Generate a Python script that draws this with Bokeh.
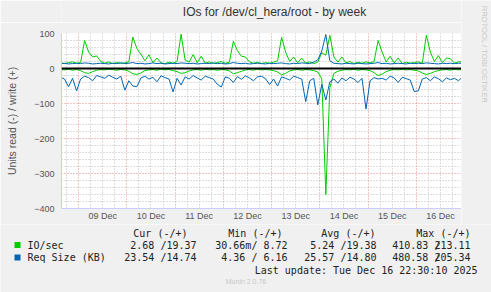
import math
from bokeh.plotting import figure
from bokeh.layouts import column, row
from bokeh.models import Range1d, FixedTicker, Grid, Span
from bokeh.core.properties import value
from bokeh.embed import file_html
from bokeh.resources import INLINE

# time axis: hours since 08 Dec 00:00, sampled every 2 hours
hours = list(range(15, 216, 2))

day_labels = ["09 Dec", "10 Dec", "11 Dec", "12 Dec", "13 Dec", "14 Dec", "15 Dec", "16 Dec"]
y_ticks = [100, 0, -100, -200, -300, -400]

# IO/sec, write (+)
io_write = [16, 14, 17, 19, 15,
            17, 80, 47, 33, 36, 20, 15, 19, 14, 17, 15, 16,
            19, 90, 57, 41, 22, 39, 17, 30, 16, 14, 18, 15,
            20, 98, 24, 18, 40, 16, 35, 15, 19, 14, 17, 20,
            15, 18, 78, 51, 35, 33, 19, 15, 18, 14, 17, 15,
            18, 22, 89, 47, 20, 33, 16, 30, 15, 19, 14, 18,
            45, 38, 95, 33, 18, 33, 16, 20, 14, 18, 15, 19,
            16, 20, 80, 47, 19, 35, 16, 30, 14, 18, 15, 17,
            19, 15, 95, 47, 20, 37, 17, 30, 28, 15, 19, 19]
# IO/sec, read (-)
io_read = [-3, -4, -2, -5, -3,
           -6, -12, -14, -9, -5, -3, -4, -2, -3, -5, -3, -4,
           -8, -15, -17, -13, -6, -4, -3, -5, -2, -4, -3, -6,
           -9, -14, -12, -7, -4, -3, -5, -2, -4, -3, -5, -3,
           -4, -7, -15, -12, -8, -4, -3, -5, -2, -4, -3, -4,
           -6, -10, -18, -14, -7, -4, -3, -5, -3, -4, -6, -10,
           -30, -360, -55, -14, -8, -5, -3, -4, -2, -5, -3, -4,
           -6, -12, -20, -16, -9, -5, -3, -4, -2, -4, -3, -5,
           -7, -13, -17, -14, -9, -6, -4, -3, -5, -2, -4, -3]
# Req Size (KB), write (+)
rq_write = [14, 15, 13, 14, 15,
            14, 16, 15, 13, 14, 15, 14, 13, 15, 14, 16, 14,
            15, 17, 14, 15, 13, 14, 16, 14, 15, 13, 14, 15,
            14, 16, 15, 14, 15, 13, 14, 15, 14, 16, 14, 15,
            13, 14, 17, 15, 14, 15, 13, 14, 15, 14, 13, 15,
            14, 15, 16, 14, 13, 15, 14, 16, 15, 14, 18, 25,
            50, 97, 22, 15, 14, 13, 15, 14, 13, 15, 14, 13,
            14, 15, 17, 14, 15, 13, 14, 15, 14, 13, 15, 14,
            15, 14, 16, 15, 14, 13, 15, 14, 15, 14, 15, 15]
# Req Size (KB), read (-)
rq_read = [-25, -30, -52, -28, -64,
           -30, -22, -26, -35, -20, -24, -28, -19, -25, -30, -22, -62,
           -35, -50, -52, -27, -22, -30, -25, -38, -21, -26, -30, -67,
           -28, -47, -24, -30, -20, -27, -33, -22, -26, -30, -45, -53,
           -24, -28, -40, -23, -31, -21, -27, -35, -24, -22, -29, -46,
           -30, -50, -24, -28, -33, -22, -26, -30, -95, -35, -28, -104,
           -45, -90, -38, -30, -42, -27, -35, -25, -30, -40, -28, -116,
           -35, -26, -30, -28, -33, -22, -27, -40, -25, -29, -33, -66,
           -64, -30, -26, -35, -24, -29, -38, -27, -32, -28, -35, -24]

title_text = "IOs for /dev/cl_hera/root - by week"
legend_names = ["IO/sec", "Req Size (KB)"]
col_heads = ["Cur (-/+)", "Min (-/+)", "Avg (-/+)", "Max (-/+)"]
io_stats = ["2.68 /19.37", "30.66m/ 8.72", "5.24 /19.38", "410.83 213.11"]
rq_stats = ["23.54 /14.74", "4.36 / 6.16", "25.57 /14.80", "480.58 205.34"]
last_update = "Last update: Tue Dec 16 22:30:10 2025"
watermark = "RRDTOOL / TOBI OETIKER"
version = "Munin 2.0.76"

GREEN = "#00CC00"
BLUE = "#0066B3"
SANS = "Liberation Sans"
MONO = "DejaVu Sans Mono"
BG = "#F0F0F0"


def strip(w, h):
    f = figure(width=w, height=h, output_backend="svg", toolbar_location=None,
               x_range=Range1d(0, w), y_range=Range1d(h, 0),
               x_axis_type=None, y_axis_type=None, min_border=0,
               background_fill_color=BG, border_fill_color=BG)
    f.outline_line_color = None
    f.grid.visible = False
    return f


def txt(f, xs, ys, texts, align, font=MONO, size="10px", color="#222222", angle=0.0):
    f.text(x=xs, y=ys, text=texts, text_font=value(font), text_font_size=value(size),
           text_color=color, text_align=align, text_baseline="middle", angle=angle)


MAIN_W = 461
TOP_H = 22
PLOT_H = 202
LEG_H = 292 - TOP_H - PLOT_H

# ---- title strip
top = strip(MAIN_W, TOP_H)
txt(top, [245.5], [11], [title_text], "center", font=SANS, size="12px", color="#333333")

# ---- main chart
p = figure(width=MAIN_W, height=PLOT_H, output_backend="svg", toolbar_location=None,
           x_range=Range1d(15.5, 214.5), y_range=Range1d(-400, 100),
           min_border_left=61, min_border_right=0, min_border_top=11, min_border_bottom=16,
           background_fill_color="white", border_fill_color=BG)
p.outline_line_color = None
p.grid.visible = False

noons = [36 + 24 * k for k in range(len(day_labels))]
midnights = [24 + 24 * k for k in range(8)]
six_h = [h for h in range(18, 215, 6) if h % 24 != 0]

p.add_layout(Grid(dimension=0, ticker=FixedTicker(ticks=six_h), grid_line_color="#BDBDBD", grid_line_dash="1 2"))
p.add_layout(Grid(dimension=1, ticker=FixedTicker(ticks=[v for v in range(-380, 100, 20) if v % 100 != 0]),
                  grid_line_color="#BDBDBD", grid_line_dash="1 2"))
p.add_layout(Grid(dimension=0, ticker=FixedTicker(ticks=midnights), grid_line_color="#E88888", grid_line_dash="1 2"))
p.add_layout(Grid(dimension=1, ticker=FixedTicker(ticks=y_ticks), grid_line_color="#E88888", grid_line_dash="1 2"))

p.xaxis.ticker = FixedTicker(ticks=noons)
p.xaxis.major_label_overrides = {t: lab for t, lab in zip(noons, day_labels)}
p.yaxis.ticker = FixedTicker(ticks=y_ticks)
p.yaxis.axis_label = "Units read (-) / write (+)"
p.yaxis.axis_label_text_font_style = "normal"
p.yaxis.axis_label_text_font = SANS
p.yaxis.axis_label_text_font_size = "10.5px"
p.yaxis.axis_label_text_color = "#555555"
p.yaxis.axis_label_standoff = 13
for ax in (p.xaxis, p.yaxis):
    ax.axis_line_color = "#CCCCFF"
    ax.major_tick_line_color = None
    ax.minor_tick_line_color = None
    ax.major_tick_out = 0
    ax.major_tick_in = 0
    ax.minor_tick_out = 0
    ax.major_label_text_font = SANS
    ax.major_label_text_font_size = "9px"
    ax.major_label_text_color = "#555555"
p.xaxis.major_label_standoff = 2
p.yaxis.major_label_standoff = 7

p.line(hours, io_read, line_color=GREEN, line_width=1)
p.line(hours, io_write, line_color=GREEN, line_width=1)
p.line(hours, rq_read, line_color=BLUE, line_width=1)
p.line(hours, rq_write, line_color=BLUE, line_width=1)
p.add_layout(Span(location=0, dimension="width", line_color="black", line_width=2))

# ---- right strip with the rrdtool watermark
rs = strip(491 - MAIN_W, TOP_H + PLOT_H)
txt(rs, [23], [54], [watermark], "center", font=SANS, size="7.7px", color="#C8C8C8",
    angle=-math.pi / 2)

# ---- legend strip (y measured down from the strip top)
leg = strip(491, LEG_H)
y_head, y_r1, y_r2, y_upd, y_mun = 8.5, 20.5, 33, 45.5, 56.5
txt(leg, [187, 282, 375, 470], [y_head] * 4, col_heads, "right")
txt(leg, [196, 287, 376, 470], [y_r1] * 4, io_stats, "right")
txt(leg, [196, 287, 376, 470], [y_r2] * 4, rq_stats, "right")
txt(leg, [437, 437], [y_r1, y_r2], ["/", "/"], "center")
txt(leg, [27, 27], [y_r1, y_r2], legend_names, "left")
txt(leg, [477], [y_upd], [last_update], "right")
txt(leg, [245.5], [y_mun], [version], "center", font=SANS, size="7px", color="#C8C8C8")
leg.rect(x=[17, 17], y=[y_r1, y_r2], width=6, height=6, fill_color=[GREEN, BLUE], line_color=None)

layout = column(row(column(top, p, spacing=0), rs, spacing=0), leg, spacing=0)
open("out.html", "w").write(file_html(layout, INLINE))
